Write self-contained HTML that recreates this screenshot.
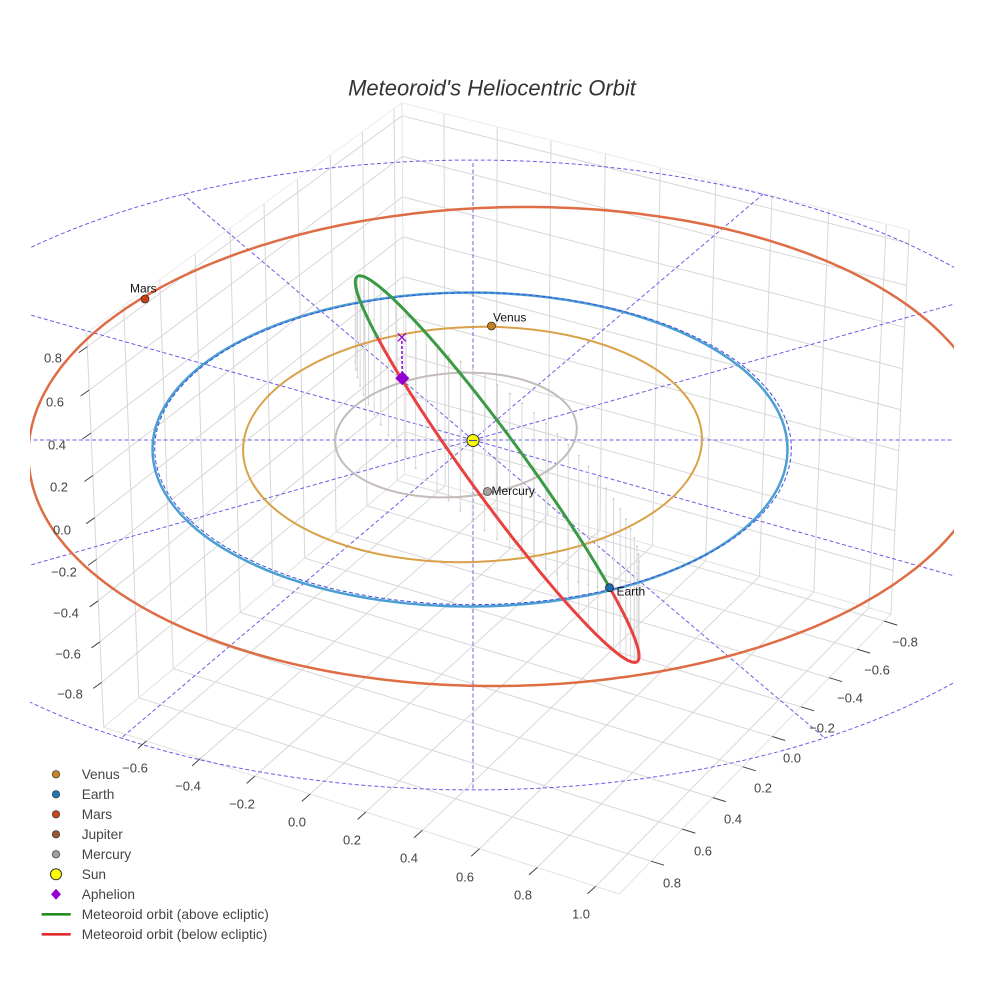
<!DOCTYPE html>
<html><head><meta charset="utf-8"><title>Meteoroid's Heliocentric Orbit</title>
<style>
html,body{margin:0;padding:0;background:#ffffff;width:984px;height:984px;overflow:hidden;}
svg{display:block;}
text{font-family:"Liberation Sans",Arial,sans-serif;}
</style></head><body>
<svg id="chart" xmlns="http://www.w3.org/2000/svg" width="984" height="984" viewBox="0 0 984 984">
<rect x="0" y="0" width="984" height="984" fill="#ffffff"/>
<defs><clipPath id="vp"><rect x="30" y="40" width="924" height="940"/></clipPath></defs>
<g id="grid" fill="none"></g>
<g clip-path="url(#vp)">
 <g id="eclip" fill="none"></g>
 <g id="drops"></g>
 <g id="orb" fill="none">
  <ellipse cx="456" cy="435" rx="121" ry="62" transform="rotate(-4 456 435)" stroke="#c4bcb8" stroke-width="2"/>
  <ellipse cx="472.5" cy="444.5" rx="229.5" ry="117.5" transform="rotate(-1.9 472.5 444.5)" stroke="#d9a24a" stroke-width="2"/>
  <ellipse cx="470" cy="449.5" rx="317.5" ry="157" stroke="#4c9fd2" stroke-width="2.5"/>
 </g>
 <g id="eclip2" fill="none"></g>
 <g id="met" fill="none"></g>
</g>
<g id="ticks"></g>

<!-- aphelion -->
<line x1="402.3" y1="374" x2="401.8" y2="339" stroke="#9400d3" stroke-width="1.5" stroke-dasharray="3,2"/>
<path d="M397.8 333.3 L405.8 341.3 M405.8 333.3 L397.8 341.3" stroke="#9400d3" stroke-width="1.3" fill="none"/>
<polygon points="402.3,371.3 409.3,378.3 402.3,385.3 395.3,378.3" fill="#9400d3"/>

<!-- sun & planets -->
<circle cx="473" cy="440.5" r="6" fill="#ffff00" stroke="#333" stroke-width="1"/>
<line x1="469" y1="440.5" x2="477" y2="440.5" stroke="#4a4aa8" stroke-width="1.2"/>
<circle cx="491.5" cy="326" r="4" fill="#c8801a" stroke="#333" stroke-width="0.8"/>
<circle cx="609.5" cy="587.7" r="4" fill="#1a6fae" stroke="#222" stroke-width="0.8"/>
<circle cx="145" cy="299" r="4" fill="#c8400e" stroke="#333" stroke-width="0.8"/>
<circle cx="487.5" cy="491.5" r="4" fill="#a8a09c" stroke="#444" stroke-width="0.8"/>
<g font-size="12" fill="#111">
 <text x="493" y="321.5">Venus</text>
 <text x="616.5" y="595.5">Earth</text>
 <text x="143.3" y="292.7" text-anchor="middle">Mars</text>
 <text x="491.5" y="495">Mercury</text>
</g>

<!-- tick labels -->
<g font-size="13" fill="#444" text-anchor="middle">
 <text x="53" y="362.6">0.8</text>
 <text x="55" y="406.6">0.6</text>
 <text x="57" y="449.6">0.4</text>
 <text x="59" y="491.6">0.2</text>
 <text x="62" y="534.6">0.0</text>
 <text x="64" y="576.6">−0.2</text>
 <text x="66" y="617.6">−0.4</text>
 <text x="68" y="658.6">−0.6</text>
 <text x="70" y="698.6">−0.8</text>

 <text x="135" y="772.6">−0.6</text>
 <text x="188" y="790.6">−0.4</text>
 <text x="242" y="808.6">−0.2</text>
 <text x="297" y="826.6">0.0</text>
 <text x="352" y="844.6">0.2</text>
 <text x="409" y="862.6">0.4</text>
 <text x="465" y="881.6">0.6</text>
 <text x="523" y="899.6">0.8</text>
 <text x="581" y="918.6">1.0</text>

 <text x="905" y="646.6">−0.8</text>
 <text x="877" y="674.6">−0.6</text>
 <text x="850" y="702.6">−0.4</text>
 <text x="822" y="732.6">−0.2</text>
 <text x="792" y="762.6">0.0</text>
 <text x="763" y="792.6">0.2</text>
 <text x="733" y="823.6">0.4</text>
 <text x="703" y="855.6">0.6</text>
 <text x="672" y="887.6">0.8</text>
</g>

<!-- legend -->
<g>
 <circle cx="56" cy="774.3" r="3.7" fill="#c8831e" stroke="#444" stroke-width="0.8"/>
 <circle cx="56" cy="794.3" r="3.7" fill="#1f78b4" stroke="#444" stroke-width="0.8"/>
 <circle cx="56" cy="814.3" r="3.7" fill="#c8461a" stroke="#444" stroke-width="0.8"/>
 <circle cx="56" cy="834.3" r="3.7" fill="#9c5530" stroke="#444" stroke-width="0.8"/>
 <circle cx="56" cy="854.3" r="3.7" fill="#a8a09c" stroke="#444" stroke-width="0.8"/>
 <circle cx="56" cy="874.3" r="5.5" fill="#ffff00" stroke="#333" stroke-width="1"/>
 <polygon points="56,888.8 61,894.3 56,899.8 51,894.3" fill="#9400d3"/>
 <line x1="41.7" y1="914.3" x2="70.7" y2="914.3" stroke="#228b22" stroke-width="2.7"/>
 <line x1="41.7" y1="934.3" x2="70.7" y2="934.3" stroke="#e02b2b" stroke-width="2.7"/>
</g>
<g font-size="13.7" fill="#444">
 <text x="81.7" y="779.2">Venus</text>
 <text x="81.7" y="799.2">Earth</text>
 <text x="81.7" y="819.2">Mars</text>
 <text x="81.7" y="839.2">Jupiter</text>
 <text x="81.7" y="859.2">Mercury</text>
 <text x="81.7" y="879.2">Sun</text>
 <text x="81.7" y="899.2">Aphelion</text>
 <text x="81.7" y="919.2">Meteoroid orbit (above ecliptic)</text>
 <text x="81.7" y="939.2">Meteoroid orbit (below ecliptic)</text>
</g>

<!-- title -->
<text x="492" y="95.5" font-size="22" font-style="italic" fill="#333" text-anchor="middle">Meteoroid's Heliocentric Orbit</text>
</svg>

<script>
(function(){
var NS="http://www.w3.org/2000/svg";
var F=4990,D=15.7,ST=0.4893,CT=0.872,CX=473,CY=440,SZ=0.743;
function P(x,y,z){var u=0.8660254*x-0.5*y,v=-0.5*x-0.8660254*y,zz=SZ*z;var d=D+v*CT-zz*ST;return [CX+F*u/d,CY-F*(v*ST+zz*CT)/d];}
function el(par,tag,at){var e=document.createElementNS(NS,tag);for(var k in at){e.setAttribute(k,at[k]);}par.appendChild(e);return e;}
function f1(n){return (Math.round(n*10)/10).toString();}
function L(g,a,b,st,w,dash){var at={x1:f1(a[0]),y1:f1(a[1]),x2:f1(b[0]),y2:f1(b[1]),stroke:st,'stroke-width':w};if(dash){at['stroke-dasharray']=dash;}return el(g,'line',at);}
function PL(g,pts,st,w,dash){var s=[];for(var i=0;i<pts.length;i++){s.push(f1(pts[i][0])+','+f1(pts[i][1]));}var at={points:s.join(' '),fill:'none',stroke:st,'stroke-width':w,'stroke-linejoin':'round','stroke-linecap':'round'};if(dash){at['stroke-dasharray']=dash;at['stroke-linecap']='butt';}return el(g,'polyline',at);}
var G=document.getElementById('grid'),S=document.getElementById('eclip'),S2=document.getElementById('eclip2'),DR=document.getElementById('drops'),O=document.getElementById('orb'),M=document.getElementById('met'),T=document.getElementById('ticks');
var X0=-0.76,X1=1.08,Y0=-0.85,Y1=1.0,Z0=-1.023,Z1=0.863;
var xt=[-0.6,-0.4,-0.2,0,0.2,0.4,0.6,0.8,1.0],yt=[-0.8,-0.6,-0.4,-0.2,0,0.2,0.4,0.6,0.8],zt=yt;
var gc='#d7d7d7',bc='#e2e2e2';
var i;
for(i=0;i<xt.length;i++){L(G,P(xt[i],Y0,Z0),P(xt[i],Y1,Z0),gc,1);L(G,P(xt[i],Y0,Z0),P(xt[i],Y0,Z1),gc,1);}
for(i=0;i<yt.length;i++){L(G,P(X0,yt[i],Z0),P(X1,yt[i],Z0),gc,1);L(G,P(X0,yt[i],Z0),P(X0,yt[i],Z1),gc,1);}
for(i=0;i<zt.length;i++){L(G,P(X0,Y0,zt[i]),P(X0,Y1,zt[i]),gc,1);L(G,P(X0,Y0,zt[i]),P(X1,Y0,zt[i]),gc,1);}
L(G,P(X0,Y1,Z0),P(X1,Y1,Z0),bc,1);
L(G,P(X1,Y0,Z0),P(X1,Y1,Z0),bc,1);
L(G,P(X0,Y0,Z0),P(X0,Y1,Z0),bc,1);
L(G,P(X0,Y0,Z0),P(X1,Y0,Z0),bc,1);
L(G,P(X0,Y1,Z0),P(X0,Y1,Z1),gc,1);
L(G,P(X0,Y0,Z0),P(X0,Y0,Z1),bc,1);
L(G,P(X1,Y0,Z0),P(X1,Y0,Z1),gc,1);
L(G,P(X0,Y0,Z1),P(X0,Y1,Z1),'#ececec',1);
L(G,P(X0,Y0,Z1),P(X1,Y0,Z1),'#ececec',1);

/* tick marks */
var e;
for(i=0;i<xt.length;i++){e=P(xt[i],Y1,Z0);L(T,e,[e[0]-8.3,e[1]+7.4],'#444',1);}
for(i=0;i<yt.length;i++){e=P(X1,yt[i],Z0);L(T,e,[e[0]+13,e[1]+4],'#444',1);}
for(i=0;i<zt.length;i++){e=P(X0,Y1,zt[i]);L(T,e,[e[0]-8.5,e[1]+6],'#444',1);}

/* dashed ecliptic grid */
var dc='#6a5de8',dash='4,2.5';
var k,t;
for(k=0;k<12;k++){t=k*Math.PI/6;L(S,P(0,0,0),P(2*Math.cos(t),2*Math.sin(t),0),dc,1,dash);}
function circ(r,n){var pts=[];for(var j=0;j<=n;j++){var a=2*Math.PI*j/n;pts.push(P(r*Math.cos(a),r*Math.sin(a),0));}return pts;}
PL(S2,circ(1,240),'#3a4fd8',1,dash);
PL(S,circ(2,360),dc,1,dash);

/* meteoroid orbit model (screen ellipse) */
var d2r=Math.PI/180;
var MC=[497.2,469.1],MA=238,MB=29,ax=[0.588,0.809],nx=[-0.809,0.588];
function MP(ph){var c=Math.cos(ph),s=Math.sin(ph);return [MC[0]+MA*c*ax[0]+MB*s*nx[0],MC[1]+MA*c*ax[1]+MB*s*nx[1]];}
function H(ph){return -7.2-153.6*Math.sin(ph+44.4*d2r);}
var p1=-47.1*d2r,p2=138.3*d2r;

/* drop lines */
for(i=0;i<72;i++){var ph=p1+(i+0.5)*(2*Math.PI/72);var p=MP(ph),h=H(ph);if(Math.abs(h)<4){continue;}var q=[p[0],p[1]+h];L(DR,p,q,'#d8d8d8',1);el(DR,'circle',{cx:f1(q[0]),cy:f1(q[1]),r:'1',fill:'#cccccc'});}

/* Mars orbit */
var mp=[];for(i=0;i<=360;i++){t=i*d2r;mp.push([509.7+481*Math.cos(t)+16*Math.sin(t),446.5-239.5*Math.sin(t)]);}
PL(O,mp,'#de6d45',2.5);

/* meteoroid orbit */
var gp=[],rp=[],n=160,gspan=p1-(p2-2*Math.PI);
for(i=0;i<=n;i++){rp.push(MP(p1+(p2-p1)*i/n));}
for(i=0;i<=n;i++){gp.push(MP(p1-gspan*i/n));}
PL(M,rp,'#e8413f',3);
PL(M,gp,'#3c9a44',3);
})();
</script>
</body></html>
